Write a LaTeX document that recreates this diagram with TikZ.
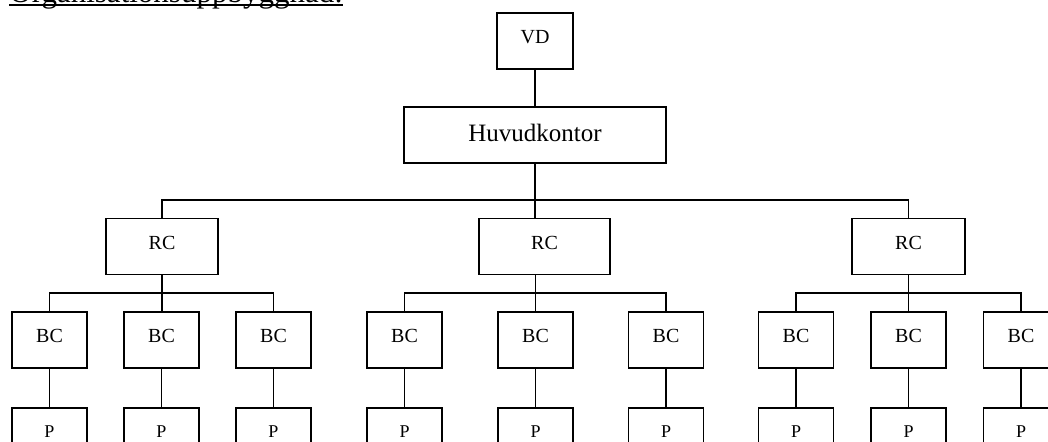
\documentclass[tikz,border=0pt]{standalone}
\usepackage{fontspec}
\setmainfont{Liberation Serif}
\usetikzlibrary{positioning}

\begin{document}
\begin{tikzpicture}[x=0.5pt, y=-0.5pt, node distance=19pt, every node/.style={font=\fontsize{10}{12}\selectfont}]
    \tikzset{orgbox/.style={draw,line width=0.9pt,inner sep=0pt,text depth=4pt,minimum width=37.5pt,minimum height=28pt},
      link/.style={line width=0.9pt}}
    \useasboundingbox (0,0) rectangle (1048,441);
    % title, cut by the top of the page
    \node[anchor=base west,inner sep=0pt,font=\fontsize{15.5}{18}\selectfont] (title) at (9,2) {Organisationsuppbyggnad:};
    \draw[link] ([yshift=-1.5pt]title.base west) -- ([yshift=-1.5pt]title.base east);
    % top
    \node[orgbox,minimum width=38pt] (vd) at (535,41) {VD};
    \node[orgbox,minimum width=131pt,text depth=2.5pt,font=\fontsize{12.5}{15}\selectfont] (hq) at (535,135) {Huvudkontor};
    \coordinate (hub) at (535,200);
    % regions
    \node[orgbox,minimum width=56pt] (r1) at (162,246.5) {RC};
    \node[orgbox,minimum width=65.5pt] (r2) at (544.5,246.5) {RC};
    \node[orgbox,minimum width=56.5pt] (r3) at (908.5,246.5) {RC};
    % BC row
    \node[orgbox] (b1) at (49.5,340) {BC};
    \node[orgbox] (b2) at (161.5,340) {BC};
    \node[orgbox] (b3) at (273.5,340) {BC};
    \node[orgbox] (b4) at (404.5,340) {BC};
    \node[orgbox] (b5) at (535.5,340) {BC};
    \node[orgbox] (b6) at (666,340) {BC};
    \node[orgbox] (b7) at (796,340) {BC};
    \node[orgbox] (b8) at (908.5,340) {BC};
    \node[orgbox] (b9) at (1021,340) {BC};
    % P row
    \tikzset{pbox/.style={orgbox,font=\fontsize{9}{11}\selectfont}}
    \node[pbox,below=of b1] (p1) {P};
    \node[pbox,below=of b2] (p2) {P};
    \node[pbox,below=of b3] (p3) {P};
    \node[pbox,below=of b4] (p4) {P};
    \node[pbox,below=of b5] (p5) {P};
    \node[pbox,below=of b6] (p6) {P};
    \node[pbox,below=of b7] (p7) {P};
    \node[pbox,below=of b8] (p8) {P};
    \node[pbox,below=of b9] (p9) {P};
    % lines
    \draw[link] (vd) -- (hq);
    \draw[link] (hq.south) -- (hub);
    \draw[link] (r1.north) |- (hub) -| (r3.north);
    \draw[link] (hub) -- (hub |- r2.north);
    \draw[link] (b1.north) |- (b3.north |- 0,293) -- (b3.north);
    \draw[link] (r1.south) -- (r1.south |- b2.north);
    \draw[link] (b4.north) |- (b6.north |- 0,293) -- (b6.north);
    \draw[link] (b5.north |- r2.south) -- (b5.north);
    \draw[link] (b7.north) |- (b9.north |- 0,293) -- (b9.north);
    \draw[link] (r3.south) -- (b8.north);
    \draw[link] (b1) -- (p1);
    \draw[link] (b2) -- (p2);
    \draw[link] (b3) -- (p3);
    \draw[link] (b4) -- (p4);
    \draw[link] (b5) -- (p5);
    \draw[link] (b6) -- (p6);
    \draw[link] (b7) -- (p7);
    \draw[link] (b8) -- (p8);
    \draw[link] (b9) -- (p9);
  \end{tikzpicture}
\end{document}
